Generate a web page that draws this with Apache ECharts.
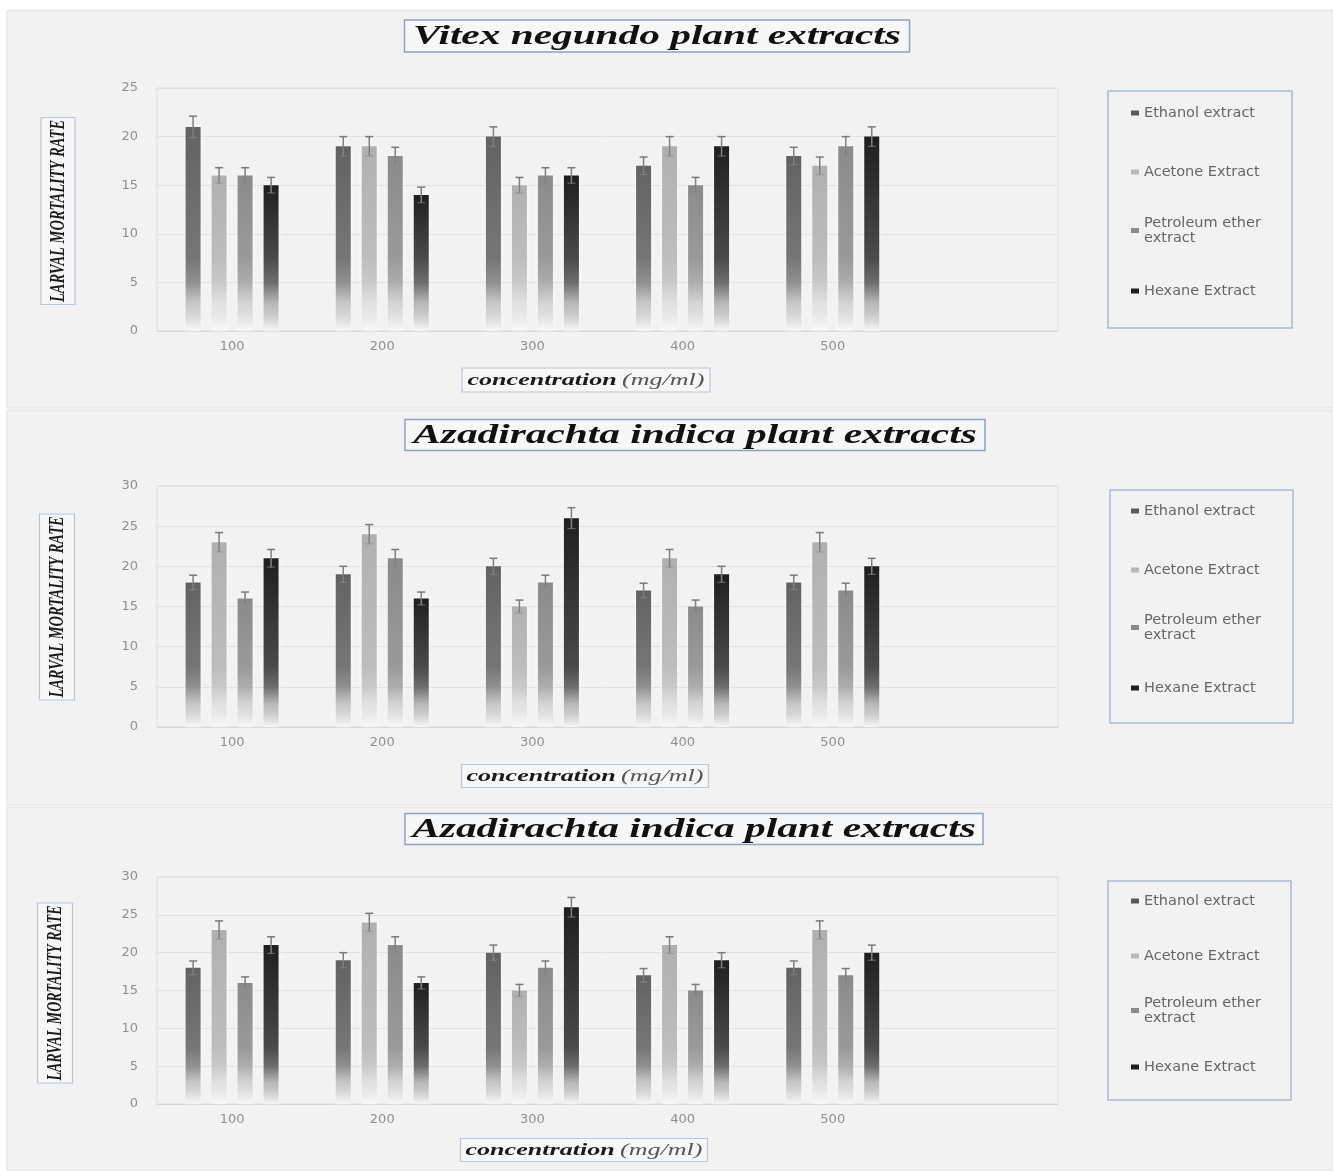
<!DOCTYPE html>
<html><head><meta charset="utf-8">
<script src="https://cdn.jsdelivr.net/npm/echarts@6/dist/echarts.min.js"></script>
<style>html,body{margin:0;padding:0;background:#fff}#c{width:1333px;height:1171px}</style>
</head><body><div id="c"></div>
<script>
// ---------- DATA ----------
const categories = ['100', '200', '300', '400', '500', ''];
const seriesNames = ['Ethanol extract', 'Acetone Extract', 'Petroleum ether extract', 'Hexane Extract'];
const panelTitles = ['Vitex negundo plant extracts', 'Azadirachta indica plant extracts', 'Azadirachta indica plant extracts'];
const yAxisTitle = 'LARVAL MORTALITY RATE';
const xAxisTitleMain = 'concentration';
const xAxisTitleUnit = '(mg/ml)';
const yAxisMax = [25, 30, 30];
const yAxisInterval = 5;

// Panel 1: Vitex negundo
const vitexEthanol = [21, 19, 20, 17, 18];
const vitexAcetone = [16, 19, 15, 19, 17];
const vitexPetroleum = [16, 18, 16, 15, 19];
const vitexHexane = [15, 14, 16, 19, 20];
const vitexEthanolErr = [1.1, 1.0, 1.0, 0.9, 0.9];
const vitexAcetoneErr = [0.8, 1.0, 0.8, 1.0, 0.9];
const vitexPetroleumErr = [0.8, 0.9, 0.8, 0.8, 1.0];
const vitexHexaneErr = [0.8, 0.8, 0.8, 1.0, 1.0];

// Panel 2: Azadirachta indica
const azadEthanol = [18, 19, 20, 17, 18];
const azadAcetone = [23, 24, 15, 21, 23];
const azadPetroleum = [16, 21, 18, 15, 17];
const azadHexane = [21, 16, 26, 19, 20];
const azadEthanolErr = [0.9, 1.0, 1.0, 0.9, 0.9];
const azadAcetoneErr = [1.2, 1.2, 0.8, 1.1, 1.2];
const azadPetroleumErr = [0.8, 1.1, 0.9, 0.8, 0.9];
const azadHexaneErr = [1.1, 0.8, 1.3, 1.0, 1.0];

// Panel 3: Azadirachta indica (repeated chart)
const azad2Ethanol = [18, 19, 20, 17, 18];
const azad2Acetone = [23, 24, 15, 21, 23];
const azad2Petroleum = [16, 21, 18, 15, 17];
const azad2Hexane = [21, 16, 26, 19, 20];
const azad2EthanolErr = [0.9, 1.0, 1.0, 0.9, 0.9];
const azad2AcetoneErr = [1.2, 1.2, 0.8, 1.1, 1.2];
const azad2PetroleumErr = [0.8, 1.1, 0.9, 0.8, 0.9];
const azad2HexaneErr = [1.1, 0.8, 1.3, 1.0, 1.0];

const panelValues = [
  [vitexEthanol, vitexAcetone, vitexPetroleum, vitexHexane],
  [azadEthanol, azadAcetone, azadPetroleum, azadHexane],
  [azad2Ethanol, azad2Acetone, azad2Petroleum, azad2Hexane]
];
const panelErrors = [
  [vitexEthanolErr, vitexAcetoneErr, vitexPetroleumErr, vitexHexaneErr],
  [azadEthanolErr, azadAcetoneErr, azadPetroleumErr, azadHexaneErr],
  [azad2EthanolErr, azad2AcetoneErr, azad2PetroleumErr, azad2HexaneErr]
];

// ---------- STYLE / LAYOUT ----------
const colTop = ['#626262', '#b0b0b0', '#8b8b8b', '#1f1f1f'];
const colMid = ['#767676', '#bdbdbd', '#9a9a9a', '#4a4a4a'];
const colRGB = ['118,118,118', '189,189,189', '154,154,154', '74,74,74'];
const legendIcon = ['#5a5a5a', '#b8b8b8', '#8a8a8a', '#1e1e1e'];

const layout = [
  { top: 88, height: 243, bg: [10, 398],
    title: [657, 36, 505, 32], ylab: [58, 211, 34, 187], xname: [586, 380, 248, 24],
    legendBox: [1108, 91, 184, 237], legendCenters: [113, 172, 231, 291] },
  { top: 486, height: 241, bg: [410, 395],
    title: [695, 435, 580, 31], ylab: [57, 607, 35, 186], xname: [585, 776, 247, 23],
    legendBox: [1110, 490, 183, 233], legendCenters: [511, 570, 628, 688] },
  { top: 877, height: 227, bg: [807, 364],
    title: [694, 829, 578, 31], ylab: [55, 993, 35, 180], xname: [584, 1150, 247, 23],
    legendBox: [1108, 881, 183, 219], legendCenters: [901, 956, 1011, 1067] }
];

const BAR_W = 15, BAR_STEP = 26;

const grids = [], xAxes = [], yAxes = [], series = [], legends = [], graphics = [];

layout.forEach((L, p) => {
  grids.push({ left: 157, width: 901, top: L.top, height: L.height, show: true,
    borderColor: '#dddddd', borderWidth: 1, backgroundColor: 'transparent' });
  xAxes.push({ type: 'category', gridIndex: p, data: categories,
    axisTick: { show: false },
    axisLine: { lineStyle: { color: '#d6d6d6' } },
    axisLabel: { color: '#8f8f8f', fontSize: 13, fontFamily: 'DejaVu Sans', margin: 9 } });
  yAxes.push({ type: 'value', gridIndex: p, min: 0, max: yAxisMax[p], interval: yAxisInterval,
    axisLine: { show: false }, axisTick: { show: false },
    splitLine: { lineStyle: { color: '#e1e1e1' } },
    axisLabel: { color: '#8f8f8f', fontSize: 13, fontFamily: 'DejaVu Sans', margin: 19 } });

  panelValues[p].forEach((vals, k) => {
    series.push({
      type: 'bar', name: seriesNames[k], xAxisIndex: p, yAxisIndex: p,
      barWidth: BAR_W, barGap: ((BAR_STEP - BAR_W) / BAR_W * 100) + '%',
      itemStyle: { color: legendIcon[k] },
      data: vals.map(v => ({
        value: v,
        itemStyle: {
          shadowColor: 'rgba(255,255,255,0.8)', shadowBlur: 5,
          color: new echarts.graphic.LinearGradient(0, 0, 0, 1, [
            { offset: 0, color: colTop[k] },
            { offset: Math.max(0, 1 - 7.5 / v), color: colMid[k] },
            { offset: Math.max(0, 1 - 5 / v), color: 'rgba(' + colRGB[k] + ',0.8)' },
            { offset: Math.max(0, 1 - 2.8 / v), color: 'rgba(' + colRGB[k] + ',0.35)' },
            { offset: 1, color: 'rgba(252,252,252,0.55)' }
          ]) }
      })),
      z: 2
    });
    const errData = vals.map((v, i) => [i, v, panelErrors[p][k][i]]);
    series.push({
      type: 'custom', xAxisIndex: p, yAxisIndex: p, z: 5, silent: true,
      encode: { x: 0, y: 1 },
      data: errData,
      renderItem: (params, api) => {
        const i = api.value(0), v = api.value(1), e = api.value(2);
        const off = (k - 1.5) * BAR_STEP;
        const top = api.coord([i, v + e]);
        const bot = api.coord([i, v - e]);
        const x = top[0] + off;
        const cap = 4;
        return { type: 'group', children: [
          { type: 'line', shape: { x1: x, y1: top[1], x2: x, y2: bot[1] }, style: { stroke: '#808080', lineWidth: 1.5 } },
          { type: 'line', shape: { x1: x - cap, y1: top[1], x2: x + cap, y2: top[1] }, style: { stroke: '#7a7a7a', lineWidth: 1.5 } },
          { type: 'line', shape: { x1: x - cap, y1: bot[1], x2: x + cap, y2: bot[1] }, style: { stroke: 'rgba(140,140,140,0.6)', lineWidth: 1.2 } }
        ] };
      }
    });
  });

  // legends (one per entry so spacing matches)
  seriesNames.forEach((nm, k) => {
    const twoLine = k === 2;
    legends.push({
      data: [nm], orient: 'vertical', left: 1131,
      top: L.legendCenters[k] - (twoLine ? 23 : 7.5),
      padding: 0, itemWidth: 8, itemHeight: 5, icon: 'rect', selectedMode: false,
      formatter: n => n === 'Petroleum ether extract' ? 'Petroleum ether\nextract' : n,
      itemStyle: { color: legendIcon[k] },
      textStyle: { fontSize: 14.5, color: '#666666', fontFamily: 'DejaVu Sans', lineHeight: 15,
        padding: twoLine ? [15, 0, 0, 0] : 0 }
    });
  });

  // decorations
  graphics.push({ type: 'rect', z: -20, silent: true,
    shape: { x: 7, y: L.bg[0], width: 1326, height: L.bg[1] },
    style: { fill: '#f2f2f2', stroke: '#e2e2e2', lineWidth: 1 } });
  const T = L.title;
  graphics.push({ type: 'rect', z: 10, silent: true,
    shape: { x: T[0] - T[2] / 2, y: T[1] - T[3] / 2, width: T[2], height: T[3] },
    style: { fill: '#f6f7f9', stroke: '#8ea3c2', lineWidth: 1.5 } });
  graphics.push({ type: 'text', z: 11, silent: true, x: T[0], y: T[1] + 1, scaleX: 1.53,
    style: { text: panelTitles[p], fill: '#111', align: 'center', verticalAlign: 'middle',
      font: 'italic bold 27px "Liberation Serif"' } });
  const Y = L.ylab;
  graphics.push({ type: 'rect', z: 10, silent: true,
    shape: { x: Y[0] - Y[2] / 2, y: Y[1] - Y[3] / 2, width: Y[2], height: Y[3] },
    style: { fill: '#f7f7f7', stroke: '#b8c6da', lineWidth: 1.2 } });
  graphics.push({ type: 'text', z: 11, silent: true, x: Y[0] + 1, y: Y[1], rotation: Math.PI / 2, scaleY: 1.5,
    scaleX: (Y[3] - 8) / 173,
    style: { text: yAxisTitle, fill: '#1a1a1a', align: 'center', verticalAlign: 'middle',
      font: 'italic bold 14px "Liberation Serif"' } });
  const X = L.xname;
  graphics.push({ type: 'rect', z: 10, silent: true,
    shape: { x: X[0] - X[2] / 2, y: X[1] - X[3] / 2, width: X[2], height: X[3] },
    style: { fill: '#f7f7f7', stroke: '#b8c6da', lineWidth: 1.2 } });
  graphics.push({ type: 'text', z: 11, silent: true, x: X[0], y: X[1] + 1, scaleX: 1.58,
    style: { text: '{b|' + xAxisTitleMain + '} {n|' + xAxisTitleUnit + '}', align: 'center', verticalAlign: 'middle',
      rich: {
        b: { font: 'italic bold 16.5px "Liberation Serif"', fill: '#1a1a1a' },
        n: { font: 'italic 16.5px "Liberation Serif"', fill: '#555' }
      } } });
  const G = L.legendBox;
  graphics.push({ type: 'rect', z: -5, silent: true,
    shape: { x: G[0], y: G[1], width: G[2], height: G[3] },
    style: { fill: '#f2f2f2', stroke: '#a9bad4', lineWidth: 1.5 } });
});

const chart = echarts.init(document.getElementById('c'), null, { renderer: 'canvas' });
chart.setOption({
  backgroundColor: '#ffffff',
  animation: false,
  grid: grids, xAxis: xAxes, yAxis: yAxes, legend: legends, series: series,
  graphic: { elements: graphics }
});
</script>
</body></html>
